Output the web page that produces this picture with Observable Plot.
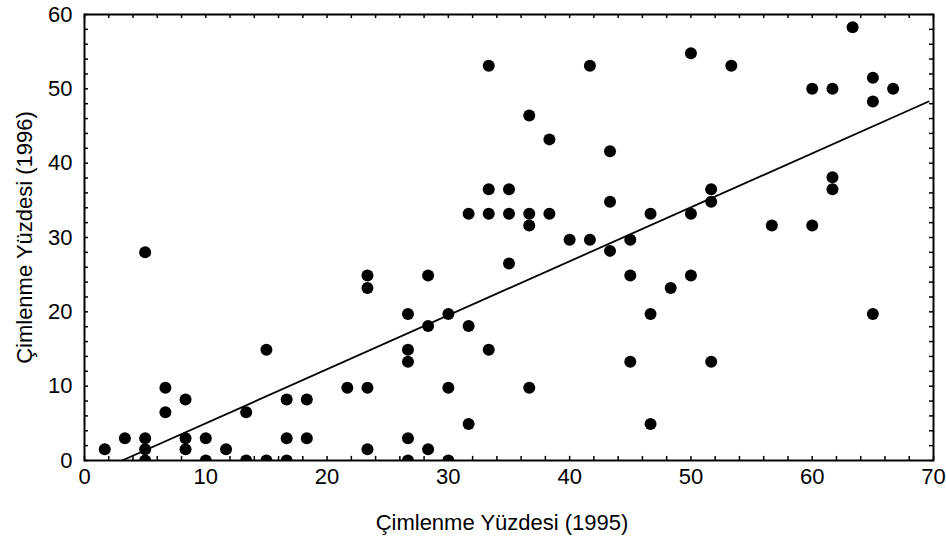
<!DOCTYPE html>
<html><head><meta charset="utf-8">
<script src="https://cdn.jsdelivr.net/npm/d3@7"></script>
<script src="https://cdn.jsdelivr.net/npm/@observablehq/plot@0.6"></script>
<style>
body{margin:0;background:#fff;}
#chart svg{display:block;}
</style>
</head><body><div id="chart"></div>
<script>
// Çimlenme Yüzdesi (1995) values
const germ1995 = [
  1.67, 3.33, 5, 5, 5, 5, 6.67, 6.67, 8.33, 8.33, 8.33, 10, 10, 11.67, 13.33, 13.33,
  15, 15, 16.67, 16.67, 16.67, 18.33, 18.33, 21.67, 23.33, 23.33, 23.33, 23.33,
  26.67, 26.67, 26.67, 26.67, 26.67, 28.33, 28.33, 28.33, 30, 30, 30,
  31.67, 31.67, 31.67, 33.33, 33.33, 33.33, 33.33, 35, 35, 35,
  36.67, 36.67, 36.67, 36.67, 38.33, 38.33, 40, 41.67, 41.67,
  43.33, 43.33, 43.33, 45, 45, 45, 46.67, 46.67, 46.67, 48.33,
  50, 50, 50, 51.67, 51.67, 51.67, 53.33, 56.67, 60, 60,
  61.67, 61.67, 61.67, 63.33, 65, 65, 65, 66.67
];
// Çimlenme Yüzdesi (1996) values
const germ1996 = [
  1.5, 3.0, 3.0, 1.5, 0, 28.0, 9.8, 6.5, 8.2, 3.0, 1.5, 3.0, 0, 1.5, 6.5, 0,
  14.9, 0, 8.2, 3.0, 0, 8.2, 3.0, 9.8, 24.9, 23.2, 9.8, 1.5,
  19.7, 14.9, 13.3, 3.0, 0, 24.9, 18.1, 1.5, 19.7, 9.8, 0,
  33.2, 18.1, 4.9, 53.1, 36.5, 33.2, 14.9, 36.5, 33.2, 26.5,
  46.4, 33.2, 31.6, 9.8, 43.2, 33.2, 29.7, 53.1, 29.7,
  41.6, 34.8, 28.2, 29.7, 24.9, 13.3, 33.2, 19.7, 4.9, 23.2,
  54.8, 33.2, 24.9, 36.5, 34.8, 13.3, 53.1, 31.6, 50, 31.6,
  50, 38.1, 36.5, 58.3, 51.5, 48.3, 19.7, 50
];
// Fitted regression line end points (as drawn in the reference)
const fitX = [3.1, 69.6];
const fitY = [0, 48.3];

const xTicks = [0, 10, 20, 30, 40, 50, 60, 70];
const yTicks = [0, 10, 20, 30, 40, 50, 60];
const xMinorTicks = d3.range(0, 71, 2);
const yMinorTicks = d3.range(0, 61, 2);

const xLabel = "Çimlenme Yüzdesi (1995)";
const yLabel = "Çimlenme Yüzdesi (1996)";

const points = germ1995.map((x, i) => ({x, y: germ1996[i]}));
const fit = fitX.map((x, i) => ({x, y: fitY[i]}));

const FS = 22;
const chart = Plot.plot({
  width: 946,
  height: 541,
  marginLeft: 84,
  marginRight: 13,
  marginTop: 14,
  marginBottom: 81,
  style: {fontFamily: "'Liberation Sans', Arial, sans-serif", fontSize: FS + "px", color: "#000", background: "#fff"},
  x: {domain: [0, 70]},
  y: {domain: [0, 60]},
  marks: [
    // inward minor/major ticks on all four sides
    Plot.ruleX(xMinorTicks, {x: d => d, y1: 0, y2: 0.55, stroke: "#000", strokeWidth: 1.5}),
    Plot.ruleX(xMinorTicks, {x: d => d, y1: 60, y2: 59.45, stroke: "#000", strokeWidth: 1.5}),
    Plot.ruleY(yMinorTicks, {y: d => d, x1: 0, x2: 0.33, stroke: "#000", strokeWidth: 1.5}),
    Plot.ruleY(yMinorTicks, {y: d => d, x1: 70, x2: 69.67, stroke: "#000", strokeWidth: 1.5}),
    Plot.line(fit, {x: "x", y: "y", stroke: "#000", strokeWidth: 1.8, clip: "frame"}),
    Plot.dot(points, {x: "x", y: "y", r: 6, fill: "#000", stroke: "none", clip: "frame"}),
    Plot.axisX(xTicks, {anchor: "bottom", tickSize: 0, tickPadding: 8, label: null, fontSize: FS, fill: "#000"}),
    Plot.axisY(yTicks, {anchor: "left", tickSize: 0, tickPadding: 12, label: null, fontSize: FS, fill: "#000"}),
    Plot.frame({stroke: "#000", strokeWidth: 2}),
    Plot.text([xLabel], {frameAnchor: "bottom", dy: 62, dx: -7, text: d => d, fontSize: FS, fill: "#000", lineAnchor: "middle", textAnchor: "middle"}),
    Plot.text([yLabel], {frameAnchor: "left", dx: -60, rotate: -90, text: d => d, fontSize: FS, fill: "#000", lineAnchor: "middle", textAnchor: "middle"})
  ]
});
document.getElementById("chart").append(chart);
</script>
</body></html>
